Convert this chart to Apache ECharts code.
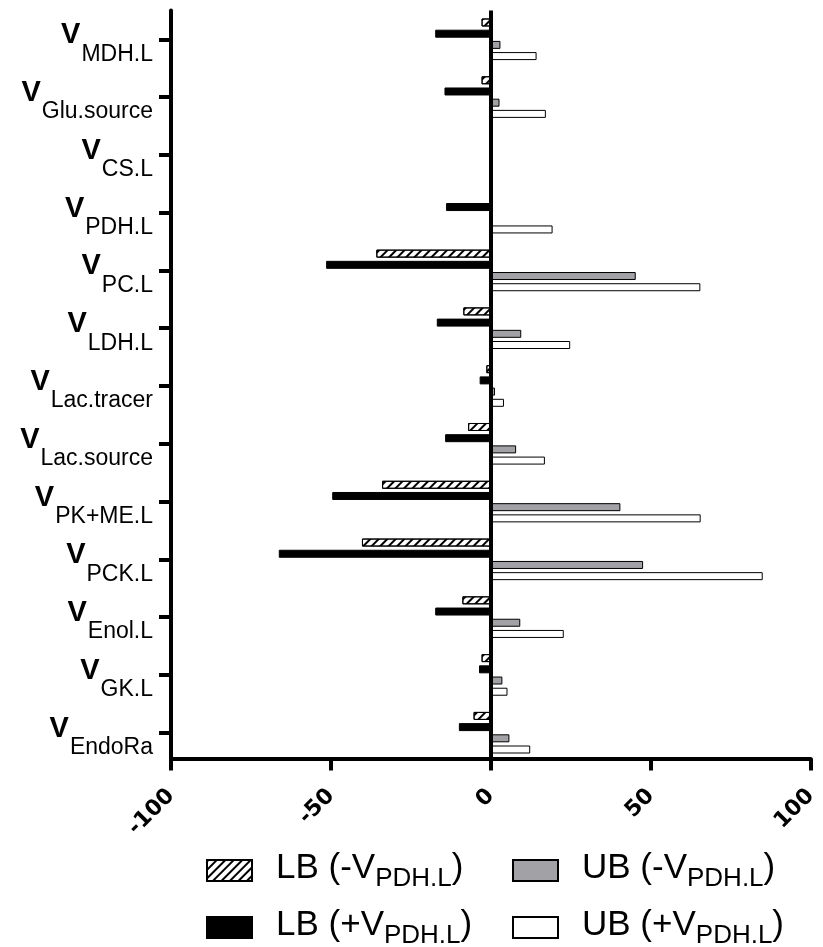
<!DOCTYPE html>
<html>
<head>
<meta charset="utf-8">
<script src="https://cdn.jsdelivr.net/npm/echarts@6/dist/echarts.min.js"></script>
<style>
html,body{margin:0;padding:0;background:#fff;}
#chart{width:823px;height:947px;}
</style>
</head>
<body>
<div id="chart"></div>
<script>
// Categories (subscripts of V), top to bottom
const categories = ['MDH.L','Glu.source','CS.L','PDH.L','PC.L','LDH.L','Lac.tracer','Lac.source','PK+ME.L','PCK.L','Enol.L','GK.L','EndoRa'];
// Series values
const lbMinus = [-2.9, -2.9, 0, 0, -35.8, -8.6, -1.4, -7.1, -34.0, -40.3, -8.9, -2.9, -5.4];
const lbPlus  = [-17.4, -14.5, 0, -14.0, -51.5, -16.9, -3.5, -14.3, -49.6, -66.3, -17.4, -3.7, -10.0];
const ubMinus = [3.0, 2.7, 0, 0, 45.3, 9.5, 1.3, 7.9, 40.5, 47.6, 9.2, 3.6, 5.8];
const ubPlus  = [14.3, 17.2, 0, 19.3, 65.5, 24.8, 4.1, 16.9, 65.6, 85.0, 22.8, 5.2, 12.3];
// Legend name parts
const seriesPrefix = ['LB (-V', 'LB (+V', 'UB (-V', 'UB (+V'];
const seriesSub = 'PDH.L';
const seriesNames = seriesPrefix.map(p => p + seriesSub + ')');
// Axis ticks
const xMin = -100, xMax = 100, xStep = 50;

const FONT = '"Liberation Sans", Arial, Helvetica, sans-serif';
const BOLDFONT = '"DejaVu Sans", "Liberation Sans", Arial, sans-serif';
const chart = echarts.init(document.getElementById('chart'), null, {renderer: 'canvas'});

const hatchDecal = {
  symbol: 'rect', symbolSize: 1, color: '#000',
  dashArrayX: [1, 0], dashArrayY: [2, 4], rotation: -Math.PI / 4
};
const styles = [
  {color: '#ffffff', borderColor: '#000', borderWidth: 1, decal: hatchDecal},
  {color: '#000000', borderColor: '#000', borderWidth: 1},
  {color: '#a2a2a6', borderColor: '#000', borderWidth: 1},
  {color: '#ffffff', borderColor: '#000', borderWidth: 1}
];
const dataSets = [lbMinus, lbPlus, ubMinus, ubPlus];

const legendRich = {
  m: {fontSize: 35, fontFamily: FONT, color: '#000', padding: [3, 0, 7, 0]},
  g: {fontSize: 35, fontFamily: FONT, color: '#000', padding: [3, 0, 7, 19]},
  s: {fontSize: 26, fontFamily: FONT, color: '#000', padding: [16, 0, 0, 0]}
};
function legendFmt(name) {
  const i = seriesNames.indexOf(name);
  return '{g|' + seriesPrefix[i] + '}{s|' + seriesSub + '}{m|)}';
}
const legendPos = [[206, 851], [206, 908], [512, 851], [512, 908]];
const legends = seriesNames.map((n, i) => ({
  data: [n], left: legendPos[i][0], top: legendPos[i][1], padding: 0,
  orient: 'horizontal', itemWidth: 45, itemHeight: 21, selectedMode: false,
  icon: 'rect', formatter: legendFmt,
  textStyle: {rich: legendRich}
}));

const series = dataSets.map((d, i) => ({
  name: seriesNames[i], type: 'bar', data: d,
  barWidth: 8, barGap: '40%',
  itemStyle: styles[i],
  emphasis: {disabled: true},
  markLine: i === 0 ? {
    silent: true, symbol: ['none', 'none'], label: {show: false},
    lineStyle: {color: '#000', width: 4, type: 'solid'},
    data: [{xAxis: 0}], animation: false
  } : undefined
}));

chart.setOption({
  animation: false,
  aria: {enabled: false},
  legend: legends,
  grid: {left: 171, right: 12.3, top: 10.4, bottom: 185.4, containLabel: false},
  xAxis: {
    type: 'value', min: xMin, max: xMax, interval: xStep, offset: -3,
    axisLine: {show: true, onZero: false, lineStyle: {color: '#000', width: 4}},
    axisTick: {show: true, length: 12, lineStyle: {color: '#000', width: 4}},
    splitLine: {show: false},
    axisLabel: {rotate: 45, margin: 34, color: '#000', fontSize: 22, fontWeight: 'bold', fontFamily: BOLDFONT}
  },
  yAxis: {
    type: 'category', data: categories, inverse: true,
    axisLine: {show: true, onZero: false, lineStyle: {color: '#000', width: 4}},
    axisTick: {show: true, alignWithLabel: true, interval: 0, length: 12, lineStyle: {color: '#000', width: 4}},
    splitLine: {show: false},
    axisLabel: {
      margin: 18, color: '#000', interval: 0,
      showMinLabel: true, showMaxLabel: true, hideOverlap: false,
      formatter: v => '{v|V}{s|' + v + '}',
      rich: {
        v: {fontSize: 29, lineHeight: 24, fontWeight: 'bold', fontFamily: FONT, color: '#000', padding: [11, 1, 19, 0]},
        s: {fontSize: 23, lineHeight: 24, fontFamily: FONT, color: '#000', padding: [30, 0, 0, 0]}
      }
    }
  },
  series: series
});
</script>
</body>
</html>
